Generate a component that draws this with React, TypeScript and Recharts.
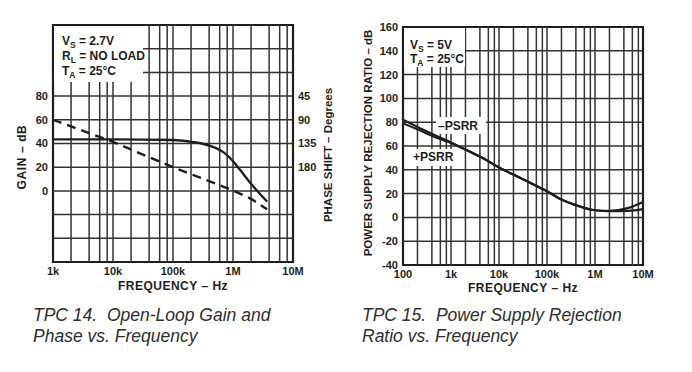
import { Line, LineChart, ReferenceArea, ReferenceLine, XAxis, YAxis } from "recharts";

// TPC 14: open-loop gain / phase
const gainFreq = [1e3, 1e4, 1e5, 2e5, 3e5, 5e5, 7e5, 1e6, 1.3e6, 2e6, 3.7e6];
const gainDb = [43.5, 43.5, 43, 41.5, 40, 36.5, 32.5, 25, 18, 6, -9];
const phaseFreq = [1e3, 1e4, 1e5, 1e6, 2e6, 3.7e6];
const phaseDeg = [90, 132, 180, 224, 240, 260];
const gainDecades = [1e3, 1e4, 1e5, 1e6, 1e7];
const gainDecadeLabels = ["1k", "10k", "100k", "1M", "10M"];
const gainTicks = [0, 20, 40, 60, 80];
const gainGrid = [-40, -20, 0, 20, 40, 60, 80, 100, 120];
const phaseTicks = [45, 90, 135, 180];

// TPC 15: PSRR
const psrrFreq = [100, 200, 500, 1e3, 2e3, 5e3, 1e4, 2e4, 5e4, 1e5, 2e5, 5e5, 1e6, 2e6, 5e6, 1e7];
const psrrMinus = [82, 76, 68.5, 63, 57, 49, 42, 36, 28, 22, 15, 9, 6, 5.5, 8, 13];
const psrrPlus = [79, 74, 67, 62.5, 57, 49, 42, 36, 28, 22, 15, 9, 6, 5.2, 5.5, 7];
const psrrDecades = [1e2, 1e3, 1e4, 1e5, 1e6, 1e7];
const psrrDecadeLabels = ["100", "1k", "10k", "100k", "1M", "10M"];
const psrrTicks = [-40, -20, 0, 20, 40, 60, 80, 100, 120, 140, 160];

// minor grid lines inside each decade
const minorSteps = [2, 4, 6, 8];

const ink = "#1e1e1e";
const gridInk = "#333";
const font = "'Liberation Sans', Arial, Helvetica, sans-serif";
const tickStyle = { fill: ink, fontSize: 11, fontWeight: 700, fontFamily: font };

function logGrid(decades: number[]) {
  const out: number[] = [];
  for (let i = 0; i < decades.length - 1; i++) {
    for (const m of minorSteps) out.push(decades[i] * m);
  }
  return out.concat(decades.slice(1, -1));
}

const gainData = gainFreq.map((f, i) => ({ f, gain: gainDb[i] }));
const phaseData = phaseFreq.map((f, i) => ({ f, phase: phaseDeg[i] }));
const psrrData = psrrFreq.map((f, i) => ({ f, minus: psrrMinus[i], plus: psrrPlus[i] }));

function labelFor(decades: number[], labels: string[]) {
  return (v: number) => labels[decades.indexOf(v)] ?? "";
}

function GainPhaseChart() {
  return (
    <LineChart width={340} height={300} margin={{ top: 25, right: 0, bottom: 0, left: 0 }}>
      <XAxis
        dataKey="f"
        type="number"
        scale="log"
        domain={[1e3, 1e7]}
        ticks={gainDecades}
        tickFormatter={labelFor(gainDecades, gainDecadeLabels)}
        allowDataOverflow
        height={38}
        tickLine={false}
        axisLine={false}
        tickSize={0}
        tickMargin={5}
        tick={tickStyle}
        interval={0}
      />
      <YAxis
        yAxisId="gain"
        type="number"
        domain={[-60, 140]}
        ticks={gainTicks}
        width={53}
        tickLine={false}
        axisLine={false}
        tickSize={0}
        tickMargin={5}
        tick={tickStyle}
        interval={0}
      />
      <YAxis
        yAxisId="phase"
        orientation="right"
        type="number"
        reversed
        domain={[-90, 360]}
        ticks={phaseTicks}
        width={47}
        tickLine={false}
        axisLine={false}
        tickSize={0}
        tickMargin={5}
        tick={{ ...tickStyle, textAnchor: "start" }}
        interval={0}
      />
      {logGrid(gainDecades).map((f) => (
        <ReferenceLine key={"x" + f} x={f} yAxisId="gain" stroke={gridInk} strokeWidth={1.5} />
      ))}
      {gainGrid.map((g) => (
        <ReferenceLine key={"y" + g} y={g} yAxisId="gain" stroke={gridInk} strokeWidth={1.5} />
      ))}
      <ReferenceArea x1={1e3} x2={1e7} y1={-60} y2={140} yAxisId="gain" fill="none" fillOpacity={0} stroke={ink} strokeWidth={2.2} />
      <Line
        data={gainData}
        dataKey="gain"
        yAxisId="gain"
        type="monotone"
        stroke={ink}
        strokeWidth={2.4}
        dot={false}
        isAnimationActive={false}
      />
      <Line
        data={phaseData}
        dataKey="phase"
        yAxisId="phase"
        type="linear"
        stroke={ink}
        strokeWidth={2.4}
        strokeDasharray="9 6"
        dot={false}
        isAnimationActive={false}
      />
    </LineChart>
  );
}

function PsrrChart() {
  return (
    <LineChart width={352} height={305} data={psrrData} margin={{ top: 27, right: 49, bottom: 0, left: 0 }}>
      <XAxis
        dataKey="f"
        type="number"
        scale="log"
        domain={[1e2, 1e7]}
        ticks={psrrDecades}
        tickFormatter={labelFor(psrrDecades, psrrDecadeLabels)}
        allowDataOverflow
        height={40}
        tickLine={false}
        axisLine={false}
        tickSize={0}
        tickMargin={5}
        tick={tickStyle}
        interval={0}
      />
      <YAxis
        type="number"
        domain={[-40, 160]}
        ticks={psrrTicks}
        width={63}
        tickLine={false}
        axisLine={false}
        tickSize={0}
        tickMargin={5}
        tick={tickStyle}
        interval={0}
      />
      {logGrid(psrrDecades).map((f) => (
        <ReferenceLine key={"x" + f} x={f} stroke={gridInk} strokeWidth={1.5} />
      ))}
      {psrrTicks.slice(1, -1).map((g) => (
        <ReferenceLine key={"y" + g} y={g} stroke={gridInk} strokeWidth={1.5} />
      ))}
      <ReferenceArea x1={1e2} x2={1e7} y1={-40} y2={160} fill="none" fillOpacity={0} stroke={ink} strokeWidth={2.2} />
      <Line dataKey="minus" type="monotone" stroke={ink} strokeWidth={2.2} dot={false} isAnimationActive={false} />
      <Line dataKey="plus" type="monotone" stroke={ink} strokeWidth={2.2} dot={false} isAnimationActive={false} />
    </LineChart>
  );
}

function Sub({ main, sub, rest }: { main: string; sub: string; rest: string }) {
  return (
    <>
      <tspan>{main}</tspan>
      <tspan dy={3} fontSize={8.5}>{sub}</tspan>
      <tspan dy={-3}>{rest}</tspan>
    </>
  );
}

export default function App() {
  const txt = { fill: ink, fontFamily: font, fontWeight: 700 } as const;
  const cap = { fill: "#2e2e2e", fontFamily: font, fontStyle: "italic", fontSize: 17.5, whiteSpace: "pre" } as const;
  return (
    <div style={{ position: "absolute", left: 0, top: 0, width: 692, height: 372, background: "#fff" }}>
      <div style={{ position: "absolute", left: 0, top: 0 }}>
        <GainPhaseChart />
      </div>
      <div style={{ position: "absolute", left: 340, top: 0 }}>
        <PsrrChart />
      </div>
      <svg width={692} height={372} style={{ position: "absolute", left: 0, top: 0, pointerEvents: "none" }}>
        {/* left conditions box */}
        <rect x={54} y={26} width={89} height={56} fill="#fff" />
        <text x={62} y={45} fontSize={12} {...txt}>
          <Sub main="V" sub="S" rest=" = 2.7V" />
        </text>
        <text x={62} y={60} fontSize={12} {...txt}>
          <Sub main="R" sub="L" rest=" = NO LOAD" />
        </text>
        <text x={62} y={75} fontSize={12} {...txt}>
          <Sub main="T" sub="A" rest=" = 25°C" />
        </text>
        {/* left axis titles */}
        <text x={26} y={157} fontSize={12} letterSpacing={0.6} textAnchor="middle" transform="rotate(-90 26 157)" {...txt}>
          GAIN – dB
        </text>
        <text x={332} y={155} fontSize={11.5} textAnchor="middle" transform="rotate(-90 332 155)" {...txt}>
          PHASE SHIFT – Degrees
        </text>
        <text x={173} y={290} fontSize={12} letterSpacing={0.5} textAnchor="middle" {...txt}>
          FREQUENCY – Hz
        </text>
        {/* right conditions box */}
        <rect x={404} y={28} width={61} height={39} fill="#fff" />
        <text x={410} y={49} fontSize={12} {...txt}>
          <Sub main="V" sub="S" rest=" = 5V" />
        </text>
        <text x={410} y={63} fontSize={12} {...txt}>
          <Sub main="T" sub="A" rest=" = 25°C" />
        </text>
        <rect x={436} y={117} width={50} height={17} fill="#fff" />
        <text x={438} y={130} fontSize={12} {...txt}>–PSRR</text>
        <rect x={410} y={149} width={45} height={17} fill="#fff" />
        <text x={413} y={161} fontSize={12} {...txt}>+PSRR</text>
        {/* right axis titles */}
        <text x={372} y={143} fontSize={11.5} textAnchor="middle" transform="rotate(-90 372 143)" {...txt}>
          POWER SUPPLY REJECTION RATIO – dB
        </text>
        <text x={523} y={292} fontSize={12} letterSpacing={0.5} textAnchor="middle" {...txt}>
          FREQUENCY – Hz
        </text>
        {/* captions */}
        <text x={33} y={321} style={cap}>TPC 14.  Open-Loop Gain and</text>
        <text x={33} y={342} style={cap}>Phase vs. Frequency</text>
        <text x={362} y={321} style={cap}>TPC 15.  Power Supply Rejection</text>
        <text x={362} y={342} style={cap}>Ratio vs. Frequency</text>
      </svg>
    </div>
  );
}
